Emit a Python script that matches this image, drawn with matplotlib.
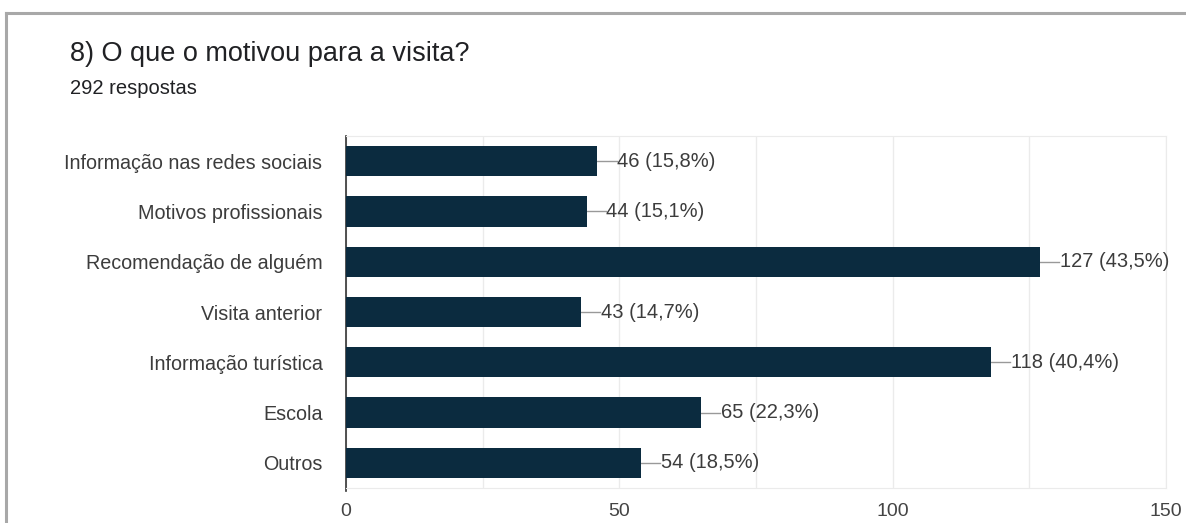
import numpy as np
import matplotlib
matplotlib.use("Agg")
from matplotlib import pyplot as plt

plt.rcParams['font.family'] = ['Liberation Sans', 'DejaVu Sans']

categorias = ["Informação nas redes sociais", "Motivos profissionais",
              "Recomendação de alguém", "Visita anterior",
              "Informação turística", "Escola", "Outros"]
valores = [46, 44, 127, 43, 118, 65, 54]
percentagens = ["15,8%", "15,1%", "43,5%", "14,7%", "40,4%", "22,3%", "18,5%"]
xticks = [0, 50, 100, 150]

fig = plt.figure(figsize=(11.86, 5.23), dpi=100)
W, H = 1186, 523

# moldura cinzenta
fig.add_artist(plt.Line2D([6/W, 6/W], [0, 1 - 13/H], color="#a8a8a8", lw=2.2))
fig.add_artist(plt.Line2D([6/W, 1], [1 - 13/H, 1 - 13/H], color="#a8a8a8", lw=2.2))

fig.text(70/W, 1 - 54/H, "8) O que o motivou para a visita?", fontsize=19.5,
         color="#202124", va="center")
fig.text(70/W, 1 - 89/H, "292 respostas", fontsize=14.5, color="#202124", va="center")

ax = fig.add_axes([346/W, 1 - 488/H, (1166 - 346)/W, (488 - 136)/H])
y = np.arange(len(categorias))
ax.barh(y, valores, height=0.6, color="#0b2b3f", zorder=3)
ax.set_ylim(len(categorias) - 0.5, -0.5)
ax.set_xlim(0, 150)
ax.set_yticks(y)
ax.set_yticklabels(categorias, fontsize=14.2, color="#3c3c3c")
ax.set_xticks(xticks)
ax.set_xticklabels([str(t) for t in xticks], fontsize=14, color="#444444")
ax.set_xticks(np.arange(0, 151, 25), minor=True)
ax.tick_params(axis="both", length=0, which="both")
ax.tick_params(axis="y", pad=17)
ax.tick_params(axis="x", pad=11)
ax.grid(axis="x", which="both", color="#ebebeb", lw=1, zorder=0)
for s in ["top", "right", "bottom"]:
    ax.spines[s].set_color("#ebebeb")
ax.spines["left"].set_color("#333333")
ax.spines["left"].set_linewidth(1.2)
ax.spines["left"].set_bounds(len(categorias) - 0.5 + 0.05, -0.5)

for i, (v, p) in enumerate(zip(valores, percentagens)):
    ax.plot([v, v + 3.5], [i, i], color="#999999", lw=1, zorder=2, clip_on=False)
    ax.text(v + 3.6, i, f"{v} ({p})", va="center", ha="left",
            fontsize=14.5, color="#3c3c3c")

fig.savefig("out.png", dpi=100)
